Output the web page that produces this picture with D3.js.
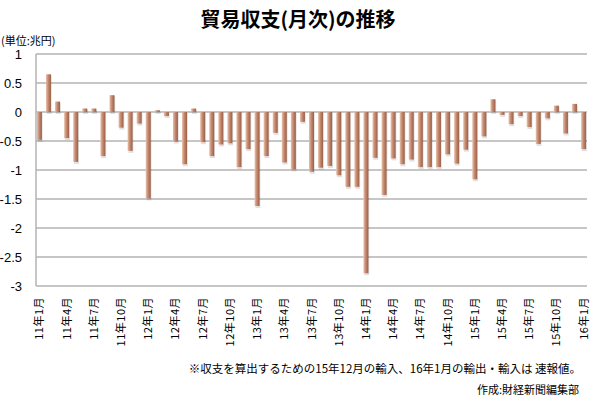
<!DOCTYPE html>
<html>
<head>
<meta charset="utf-8">
<script src="https://cdn.jsdelivr.net/npm/d3@7"></script>
<style>
  body { margin: 0; background: #fff; }
  svg { display: block; }
  text { font-family: "Noto Sans CJK JP", "Noto Sans", sans-serif; fill: #000; }
</style>
</head>
<body>
<div id="chart"></div>
<script>
// 11年1月 ～ 16年1月 (兆円)
const months = [];
for (let y = 11; y <= 16; y++) {
    for (let m = 1; m <= 12; m++) {
        if (y === 16 && m > 1) break;
        months.push(`${y}年${m}月`);
    }
}
const balance = [
    -0.48, 0.65, 0.18, -0.45, -0.86, 0.06, 0.06, -0.76, 0.29, -0.27, -0.67, -0.20,
    -1.49, 0.03, -0.07, -0.51, -0.90, 0.06, -0.52, -0.76, -0.56, -0.54, -0.95, -0.64,
    -1.62, -0.76, -0.36, -0.87, -0.99, -0.17, -1.03, -0.96, -0.93, -1.09, -1.29, -1.29,
    -2.78, -0.79, -1.43, -0.80, -0.90, -0.82, -0.95, -0.95, -0.95, -0.73, -0.89, -0.65,
    -1.16, -0.42, 0.22, -0.05, -0.21, -0.07, -0.26, -0.55, -0.11, 0.11, -0.37, 0.14,
    -0.64
];
const yTicks = [1, 0.5, 0, -0.5, -1, -1.5, -2, -2.5, -3];
const tickMonths = months.filter((d, i) => i % 3 === 0);

const width = 600, height = 398;
const margin = { left: 36, right: 13, top: 54, bottom: 112 };

const svg = d3.select('#chart').append('svg')
    .attr('width', width)
    .attr('height', height);

const defs = svg.append('defs');
const grad = defs.append('linearGradient').attr('id', 'barGrad')
    .attr('x1', '0%').attr('x2', '100%').attr('y1', '0%').attr('y2', '0%');
grad.append('stop').attr('offset', '0%').attr('stop-color', '#e9c3ad');
grad.append('stop').attr('offset', '45%').attr('stop-color', '#c48a70');
grad.append('stop').attr('offset', '100%').attr('stop-color', '#9b5e46');

const x = d3.scaleBand()
    .domain(months)
    .range([margin.left, width - margin.right])
    .paddingInner(0.45)
    .paddingOuter(0.1);

const y = d3.scaleLinear()
    .domain([-3, 1])
    .range([height - margin.bottom, margin.top]);

// gridlines
svg.append('g').selectAll('line')
    .data(yTicks)
    .enter().append('line')
    .attr('x1', margin.left)
    .attr('x2', width - margin.right)
    .attr('y1', d => y(d))
    .attr('y2', d => y(d))
    .attr('stroke', '#b3b3b3')
    .attr('stroke-width', 1.5);

// left axis line
svg.append('line')
    .attr('x1', margin.left).attr('x2', margin.left)
    .attr('y1', y(1)).attr('y2', y(-3))
    .attr('stroke', '#b3b3b3')
    .attr('stroke-width', 1.5);

// y tick labels
const yAxis = d3.axisLeft(y).tickValues(yTicks).tickSize(0).tickPadding(14)
    .tickFormat(d => String(d));
const gy = svg.append('g')
    .attr('transform', `translate(${margin.left},0)`)
    .call(yAxis);
gy.select('.domain').remove();
gy.selectAll('text')
    .style('font-family', '"Liberation Sans", Arial, sans-serif')
    .style('font-size', '13px');

// bars (shadow + body)
const bars = svg.append('g');
bars.selectAll('.shadow')
    .data(balance)
    .enter().append('rect')
    .attr('class', 'shadow')
    .attr('x', (d, i) => x(months[i]) + 0.8)
    .attr('y', d => Math.min(y(d), y(0)) + 1)
    .attr('width', x.bandwidth())
    .attr('height', d => Math.abs(y(d) - y(0)) + 1)
    .attr('fill', '#000')
    .attr('opacity', 0.12);
bars.selectAll('.bar')
    .data(balance)
    .enter().append('rect')
    .attr('class', 'bar')
    .attr('x', (d, i) => x(months[i]))
    .attr('y', d => Math.min(y(d), y(0)))
    .attr('width', x.bandwidth())
    .attr('height', d => Math.abs(y(d) - y(0)))
    .attr('fill', 'url(#barGrad)');

// x labels (every 3 months, rotated)
svg.append('g').selectAll('text')
    .data(tickMonths)
    .enter().append('text')
    .attr('transform', d => `translate(${x(d) + x.bandwidth() / 2 + 4},${y(-3) + 11}) rotate(-90)`)
    .attr('text-anchor', 'end')
    .style('font-size', '11px')
    .style('letter-spacing', '0.5px')
    .text(d => d);

// title
svg.append('text')
    .attr('x', 298).attr('y', 27)
    .attr('text-anchor', 'middle')
    .style('font-size', '20px')
    .style('font-weight', 'bold')
    .text('貿易収支(月次)の推移');

svg.append('text')
    .attr('x', 1).attr('y', 45)
    .style('font-size', '11px')
    .text('(単位:兆円)');

svg.append('text')
    .attr('x', 581).attr('y', 373)
    .attr('text-anchor', 'end')
    .style('font-size', '11.5px')
    .text('※収支を算出するための15年12月の輸入、16年1月の輸出・輸入は 速報値。');

svg.append('text')
    .attr('x', 579).attr('y', 394)
    .attr('text-anchor', 'end')
    .style('font-size', '11px')
    .text('作成:財経新聞編集部');
</script>
</body>
</html>
